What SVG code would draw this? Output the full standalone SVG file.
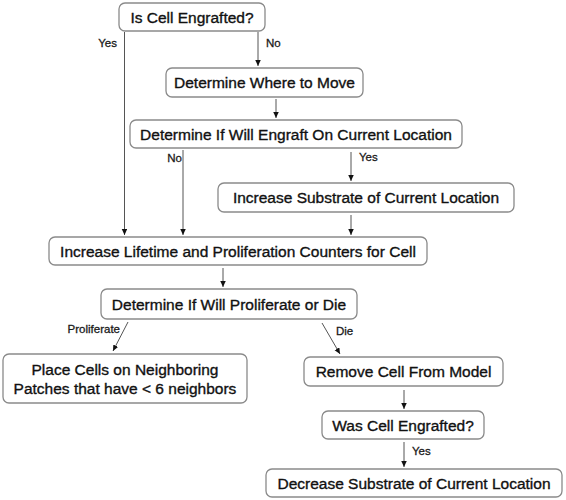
<svg xmlns="http://www.w3.org/2000/svg" width="566" height="500" viewBox="0 0 566 500">
<style>
.box{fill:#fff;stroke:#8a8a8a;stroke-width:1.3}
.t{font-family:"Liberation Sans",Arial,sans-serif;font-size:15.5px;fill:#111;stroke:#111;stroke-width:0.35;text-anchor:middle}
.l{font-family:"Liberation Sans",Arial,sans-serif;font-size:11.5px;fill:#1a1a1a;stroke:#1a1a1a;stroke-width:0.3}
.c{stroke:#555;stroke-width:1;fill:none}
</style>
<defs>
<marker id="ah" markerUnits="userSpaceOnUse" markerWidth="8" markerHeight="8" refX="6" refY="2.75" orient="auto">
<path d="M0,0 L6,2.75 L0,5.5 Z" fill="#111"/>
</marker>
</defs>
<rect width="566" height="500" fill="#fff"/>
<g id="connectors">
<line class="c" x1="124.5" y1="32" x2="124.5" y2="235" marker-end="url(#ah)"/>
<line class="c" x1="258" y1="32" x2="258" y2="66" marker-end="url(#ah)"/>
<line class="c" x1="276" y1="99" x2="276" y2="118" marker-end="url(#ah)"/>
<line class="c" x1="183" y1="150" x2="183" y2="235" marker-end="url(#ah)"/>
<line class="c" x1="351" y1="152" x2="351" y2="181" marker-end="url(#ah)"/>
<line class="c" x1="351" y1="215" x2="351" y2="235" marker-end="url(#ah)"/>
<line class="c" x1="223" y1="268" x2="223" y2="287" marker-end="url(#ah)"/>
<line class="c" x1="128" y1="322" x2="113" y2="351" marker-end="url(#ah)"/>
<line class="c" x1="322" y1="323" x2="340" y2="354" marker-end="url(#ah)"/>
<line class="c" x1="404" y1="390" x2="404" y2="409" marker-end="url(#ah)"/>
<line class="c" x1="404" y1="442" x2="404" y2="467" marker-end="url(#ah)"/>
<text class="l" x="117" y="47" text-anchor="end">Yes</text>
<text class="l" x="266" y="47">No</text>
<text class="l" x="182" y="162" text-anchor="end">No</text>
<text class="l" x="359" y="161">Yes</text>
<text class="l" x="120" y="333" text-anchor="end">Proliferate</text>
<text class="l" x="336" y="335">Die</text>
<text class="l" x="412" y="455">Yes</text>
</g>
<g id="n1"><rect class="box" x="119" y="3" width="146" height="28" rx="6"/><text class="t" x="192" y="22.5">Is Cell Engrafted?</text></g>
<g id="n2"><rect class="box" x="166" y="68" width="197" height="29" rx="6"/><text class="t" x="264.5" y="88">Determine Where to Move</text></g>
<g id="n3"><rect class="box" x="130" y="120" width="332" height="28" rx="6"/><text class="t" x="296" y="139.5">Determine If Will Engraft On Current Location</text></g>
<g id="n4"><rect class="box" x="218" y="183" width="296" height="29" rx="6"/><text class="t" x="366" y="203">Increase Substrate of Current Location</text></g>
<g id="n5"><rect class="box" x="49" y="237" width="378" height="28" rx="6"/><text class="t" x="238" y="256.5">Increase Lifetime and Proliferation Counters for Cell</text></g>
<g id="n6"><rect class="box" x="101" y="289" width="256" height="30" rx="6"/><text class="t" x="229" y="309.5">Determine If Will Proliferate or Die</text></g>
<g id="n7"><rect class="box" x="3" y="354" width="244" height="49" rx="6"/><text class="t" x="125" y="375">Place Cells on Neighboring</text><text class="t" x="125" y="394">Patches that have &lt; 6 neighbors</text></g>
<g id="n8"><rect class="box" x="304" y="357" width="199" height="29" rx="6"/><text class="t" x="403.5" y="377">Remove Cell From Model</text></g>
<g id="n9"><rect class="box" x="322" y="411" width="162" height="28" rx="6"/><text class="t" x="403" y="430.5">Was Cell Engrafted?</text></g>
<g id="n10"><rect class="box" x="266" y="469" width="296" height="28" rx="6"/><text class="t" x="414" y="488.5">Decrease Substrate of Current Location</text></g>
</svg>
